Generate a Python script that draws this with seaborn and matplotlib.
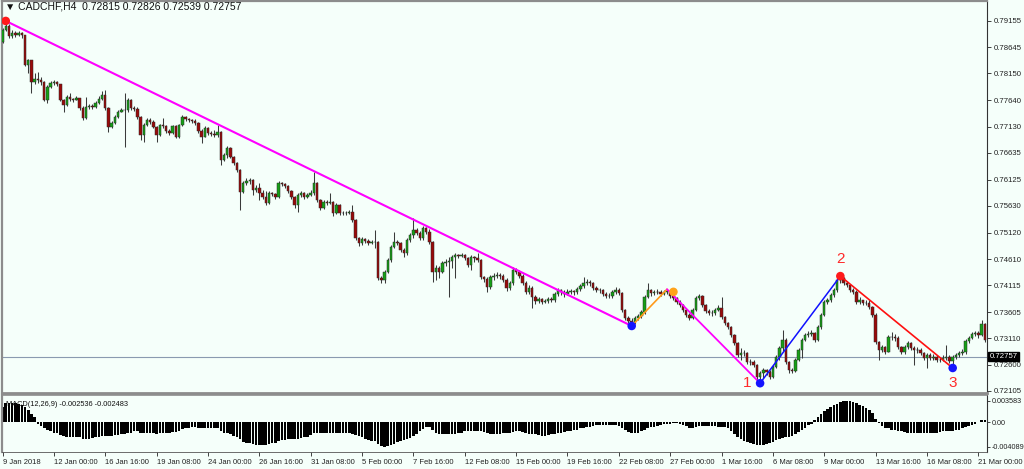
import numpy as np
import pandas as pd
import seaborn as sns
import matplotlib.pyplot as plt
import matplotlib.transforms as mtransforms

sns.set_style("white")
plt.rcParams["font.family"] = ["Liberation Sans", "DejaVu Sans"]

# CADCHF H4 candles, 9 Jan 2018 08:00 .. 21 Mar 2018
first_open = 0.7875
close = [
    0.7898, 0.7905, 0.7886, 0.7892, 0.7888, 0.7892, 0.7888, 0.7831, 0.7841, 0.7799,
    0.7805, 0.7803, 0.7799, 0.7765, 0.7789, 0.7797, 0.7799, 0.7795, 0.7765, 0.7755,
    0.7770, 0.7766, 0.7765, 0.7768, 0.7749, 0.7730, 0.7751, 0.7753, 0.7751, 0.7759,
    0.7766, 0.7774, 0.7749, 0.7713, 0.7721, 0.7732, 0.7742, 0.7745, 0.7745, 0.7765,
    0.7749, 0.7747, 0.7732, 0.7698, 0.7717, 0.7726, 0.7723, 0.7713, 0.7698, 0.7717,
    0.7715, 0.7705, 0.7702, 0.7715, 0.7694, 0.7717, 0.7732, 0.7728, 0.7726, 0.7725,
    0.7721, 0.7705, 0.7694, 0.7711, 0.7702, 0.7700, 0.7698, 0.7704, 0.7650, 0.7660,
    0.7673, 0.7656, 0.7645, 0.7631, 0.7589, 0.7606, 0.7610, 0.7612, 0.7593, 0.7597,
    0.7587, 0.7580, 0.7568, 0.7587, 0.7585, 0.7580, 0.7606, 0.7604, 0.7601, 0.7591,
    0.7580, 0.7564, 0.7584, 0.7587, 0.7580, 0.7584, 0.7587, 0.7606, 0.7574, 0.7559,
    0.7570, 0.7568, 0.7570, 0.7549, 0.7564, 0.7549, 0.7549, 0.7549, 0.7551, 0.7536,
    0.7502, 0.7492, 0.7500, 0.7496, 0.7492, 0.7494, 0.7494, 0.7425, 0.7422, 0.7437,
    0.7460, 0.7485, 0.7494, 0.7492, 0.7479, 0.7473, 0.7498, 0.7507, 0.7517, 0.7511,
    0.7502, 0.7521, 0.7513, 0.7494, 0.7437, 0.7444, 0.7437, 0.7454, 0.7456, 0.7458,
    0.7465, 0.7469, 0.7467, 0.7469, 0.7464, 0.7450, 0.7465, 0.7464, 0.7460, 0.7427,
    0.7423, 0.7408, 0.7427, 0.7429, 0.7431, 0.7429, 0.7422, 0.7406, 0.7416, 0.7441,
    0.7437, 0.7429, 0.7416, 0.7399, 0.7406, 0.7389, 0.7382, 0.7385, 0.7380, 0.7382,
    0.7385, 0.7384, 0.7395, 0.7403, 0.7399, 0.7395, 0.7399, 0.7401, 0.7399, 0.7404,
    0.7410, 0.7416, 0.7418, 0.7416, 0.7406, 0.7403, 0.7403, 0.7395, 0.7391, 0.7391,
    0.7399, 0.7403, 0.7397, 0.7365, 0.7349, 0.7344, 0.7342, 0.7349, 0.7353, 0.7361,
    0.7389, 0.7403, 0.7397, 0.7399, 0.7399, 0.7395, 0.7399, 0.7401, 0.7391, 0.7387,
    0.7380, 0.7374, 0.7365, 0.7355, 0.7349, 0.7365, 0.7387, 0.7391, 0.7374, 0.7363,
    0.7359, 0.7359, 0.7365, 0.7368, 0.7351, 0.7340, 0.7332, 0.7317, 0.7302, 0.7279,
    0.7283, 0.7283, 0.7265, 0.7265, 0.7260, 0.7237, 0.7244, 0.7250, 0.7246, 0.7237,
    0.7256, 0.7275, 0.7292, 0.7307, 0.7265, 0.7250, 0.7248, 0.7269, 0.7288, 0.7307,
    0.7317, 0.7319, 0.7321, 0.7307, 0.7332, 0.7355, 0.7380, 0.7384, 0.7393, 0.7403,
    0.7422, 0.7425, 0.7416, 0.7412, 0.7403, 0.7399, 0.7380, 0.7384, 0.7378, 0.7378,
    0.7370, 0.7355, 0.7304, 0.7288, 0.7294, 0.7285, 0.7313, 0.7313, 0.7311, 0.7294,
    0.7285, 0.7294, 0.7302, 0.7292, 0.7288, 0.7288, 0.7283, 0.7273, 0.7279, 0.7273,
    0.7275, 0.7269, 0.7269, 0.7273, 0.7275, 0.7267, 0.7275, 0.7279, 0.7283, 0.7285,
    0.7305, 0.7311, 0.7319, 0.7321, 0.7317, 0.7338, 0.7307,
]
high = [
    0.7902, 0.7915, 0.7909, 0.7898, 0.7896, 0.7896, 0.7894, 0.7888, 0.7843, 0.7841,
    0.7816, 0.7818, 0.7808, 0.7801, 0.7793, 0.7801, 0.7803, 0.7801, 0.7795, 0.7766,
    0.7774, 0.7778, 0.7768, 0.7772, 0.7768, 0.7753, 0.7770, 0.7757, 0.7757, 0.7763,
    0.7772, 0.7782, 0.7784, 0.7751, 0.7725, 0.7736, 0.7745, 0.7749, 0.7778, 0.7768,
    0.7766, 0.7753, 0.7751, 0.7734, 0.7721, 0.7730, 0.7730, 0.7726, 0.7715, 0.7719,
    0.7730, 0.7717, 0.7709, 0.7717, 0.7717, 0.7719, 0.7736, 0.7734, 0.7730, 0.7728,
    0.7728, 0.7723, 0.7709, 0.7715, 0.7713, 0.7705, 0.7707, 0.7717, 0.7705, 0.7664,
    0.7677, 0.7675, 0.7658, 0.7646, 0.7633, 0.7610, 0.7616, 0.7616, 0.7614, 0.7603,
    0.7606, 0.7593, 0.7591, 0.7591, 0.7589, 0.7587, 0.7610, 0.7608, 0.7606, 0.7603,
    0.7593, 0.7582, 0.7587, 0.7591, 0.7589, 0.7587, 0.7593, 0.7627, 0.7608, 0.7576,
    0.7574, 0.7574, 0.7587, 0.7572, 0.7568, 0.7566, 0.7553, 0.7553, 0.7555, 0.7564,
    0.7538, 0.7504, 0.7504, 0.7502, 0.7500, 0.7498, 0.7517, 0.7496, 0.7429, 0.7441,
    0.7464, 0.7488, 0.7513, 0.7498, 0.7494, 0.7483, 0.7502, 0.7511, 0.7540, 0.7521,
    0.7515, 0.7525, 0.7523, 0.7519, 0.7496, 0.7450, 0.7448, 0.7458, 0.7462, 0.7465,
    0.7469, 0.7473, 0.7471, 0.7473, 0.7471, 0.7465, 0.7469, 0.7467, 0.7473, 0.7462,
    0.7429, 0.7427, 0.7431, 0.7435, 0.7437, 0.7435, 0.7433, 0.7425, 0.7420, 0.7446,
    0.7444, 0.7441, 0.7433, 0.7420, 0.7412, 0.7410, 0.7393, 0.7389, 0.7387, 0.7385,
    0.7389, 0.7389, 0.7399, 0.7406, 0.7404, 0.7403, 0.7404, 0.7404, 0.7403, 0.7408,
    0.7414, 0.7427, 0.7423, 0.7422, 0.7418, 0.7410, 0.7406, 0.7404, 0.7399, 0.7397,
    0.7403, 0.7408, 0.7406, 0.7399, 0.7366, 0.7353, 0.7349, 0.7353, 0.7357, 0.7365,
    0.7393, 0.7416, 0.7404, 0.7403, 0.7404, 0.7403, 0.7403, 0.7404, 0.7403, 0.7399,
    0.7389, 0.7384, 0.7376, 0.7368, 0.7359, 0.7368, 0.7391, 0.7395, 0.7393, 0.7376,
    0.7366, 0.7365, 0.7368, 0.7374, 0.7389, 0.7353, 0.7342, 0.7334, 0.7319, 0.7304,
    0.7292, 0.7288, 0.7285, 0.7271, 0.7269, 0.7262, 0.7248, 0.7254, 0.7252, 0.7250,
    0.7260, 0.7279, 0.7296, 0.7326, 0.7311, 0.7267, 0.7254, 0.7273, 0.7292, 0.7311,
    0.7321, 0.7324, 0.7326, 0.7323, 0.7336, 0.7359, 0.7384, 0.7387, 0.7397, 0.7406,
    0.7425, 0.7429, 0.7427, 0.7420, 0.7414, 0.7406, 0.7403, 0.7389, 0.7384, 0.7384,
    0.7384, 0.7372, 0.7359, 0.7305, 0.7298, 0.7296, 0.7317, 0.7323, 0.7319, 0.7315,
    0.7296, 0.7298, 0.7305, 0.7304, 0.7296, 0.7294, 0.7292, 0.7285, 0.7283, 0.7283,
    0.7281, 0.7279, 0.7275, 0.7279, 0.7298, 0.7279, 0.7279, 0.7283, 0.7286, 0.7290,
    0.7309, 0.7315, 0.7323, 0.7324, 0.7324, 0.7345, 0.7340,
]
low = [
    0.7873, 0.7896, 0.7883, 0.7883, 0.7885, 0.7886, 0.7883, 0.7829, 0.7816, 0.7778,
    0.7795, 0.7797, 0.7793, 0.7763, 0.7759, 0.7787, 0.7793, 0.7791, 0.7763, 0.7742,
    0.7753, 0.7763, 0.7761, 0.7765, 0.7745, 0.7726, 0.7728, 0.7747, 0.7747, 0.7749,
    0.7757, 0.7765, 0.7745, 0.7704, 0.7711, 0.7719, 0.7730, 0.7742, 0.7675, 0.7742,
    0.7745, 0.7744, 0.7728, 0.7688, 0.7685, 0.7715, 0.7719, 0.7711, 0.7685, 0.7696,
    0.7711, 0.7702, 0.7698, 0.7700, 0.7692, 0.7692, 0.7715, 0.7724, 0.7723, 0.7721,
    0.7717, 0.7702, 0.7683, 0.7694, 0.7698, 0.7696, 0.7694, 0.7694, 0.7641, 0.7648,
    0.7654, 0.7654, 0.7641, 0.7627, 0.7555, 0.7587, 0.7603, 0.7604, 0.7584, 0.7589,
    0.7574, 0.7576, 0.7564, 0.7566, 0.7582, 0.7576, 0.7578, 0.7601, 0.7597, 0.7587,
    0.7576, 0.7559, 0.7551, 0.7580, 0.7576, 0.7578, 0.7582, 0.7584, 0.7570, 0.7555,
    0.7557, 0.7564, 0.7566, 0.7543, 0.7547, 0.7545, 0.7545, 0.7545, 0.7547, 0.7532,
    0.7498, 0.7486, 0.7488, 0.7492, 0.7488, 0.7490, 0.7483, 0.7422, 0.7416, 0.7416,
    0.7435, 0.7456, 0.7483, 0.7488, 0.7475, 0.7465, 0.7469, 0.7494, 0.7502, 0.7507,
    0.7498, 0.7498, 0.7509, 0.7490, 0.7418, 0.7422, 0.7425, 0.7435, 0.7448, 0.7389,
    0.7444, 0.7425, 0.7464, 0.7465, 0.7460, 0.7446, 0.7441, 0.7456, 0.7456, 0.7423,
    0.7418, 0.7399, 0.7404, 0.7422, 0.7425, 0.7423, 0.7418, 0.7401, 0.7403, 0.7412,
    0.7433, 0.7425, 0.7412, 0.7395, 0.7395, 0.7368, 0.7376, 0.7378, 0.7376, 0.7378,
    0.7378, 0.7380, 0.7380, 0.7391, 0.7393, 0.7389, 0.7393, 0.7395, 0.7393, 0.7395,
    0.7401, 0.7406, 0.7412, 0.7410, 0.7403, 0.7399, 0.7397, 0.7391, 0.7387, 0.7387,
    0.7387, 0.7395, 0.7393, 0.7361, 0.7345, 0.7340, 0.7334, 0.7338, 0.7345, 0.7349,
    0.7357, 0.7387, 0.7391, 0.7393, 0.7395, 0.7391, 0.7393, 0.7395, 0.7387, 0.7384,
    0.7376, 0.7370, 0.7361, 0.7351, 0.7345, 0.7347, 0.7363, 0.7384, 0.7370, 0.7359,
    0.7355, 0.7353, 0.7355, 0.7363, 0.7347, 0.7336, 0.7328, 0.7313, 0.7298, 0.7275,
    0.7269, 0.7277, 0.7262, 0.7260, 0.7256, 0.7231, 0.7225, 0.7235, 0.7241, 0.7233,
    0.7235, 0.7254, 0.7269, 0.7286, 0.7262, 0.7244, 0.7244, 0.7246, 0.7267, 0.7273,
    0.7305, 0.7313, 0.7315, 0.7304, 0.7305, 0.7328, 0.7353, 0.7376, 0.7380, 0.7389,
    0.7399, 0.7416, 0.7412, 0.7408, 0.7399, 0.7395, 0.7376, 0.7376, 0.7374, 0.7374,
    0.7366, 0.7351, 0.7300, 0.7269, 0.7285, 0.7281, 0.7285, 0.7307, 0.7305, 0.7290,
    0.7281, 0.7281, 0.7290, 0.7288, 0.7260, 0.7283, 0.7279, 0.7269, 0.7254, 0.7269,
    0.7269, 0.7265, 0.7265, 0.7267, 0.7269, 0.7264, 0.7254, 0.7271, 0.7275, 0.7279,
    0.7281, 0.7302, 0.7309, 0.7315, 0.7311, 0.7315, 0.7304,
]
# MACD(12,26,9) main line, one value per bar
macd = [
    0.0026, 0.0032, 0.0032, 0.0032, 0.0032, 0.0030, 0.0029, 0.0025, 0.0020, 0.0014,
    0.0008, -0.0002, -0.0006, -0.0009, -0.0012, -0.0015, -0.0017, -0.0018, -0.0021, -0.0023,
    -0.0024, -0.0024, -0.0024, -0.0024, -0.0024, -0.0027, -0.0027, -0.0027, -0.0026, -0.0024,
    -0.0024, -0.0022, -0.0022, -0.0023, -0.0022, -0.0021, -0.0021, -0.0020, -0.0020, -0.0018,
    -0.0017, -0.0015, -0.0015, -0.0017, -0.0018, -0.0018, -0.0017, -0.0018, -0.0019, -0.0018,
    -0.0017, -0.0017, -0.0017, -0.0016, -0.0016, -0.0014, -0.0011, -0.0010, -0.0009, -0.0008,
    -0.0008, -0.0009, -0.0010, -0.0010, -0.0010, -0.0010, -0.0010, -0.0010, -0.0014, -0.0017,
    -0.0018, -0.0020, -0.0022, -0.0024, -0.0028, -0.0032, -0.0034, -0.0035, -0.0036, -0.0037,
    -0.0037, -0.0037, -0.0037, -0.0036, -0.0035, -0.0034, -0.0031, -0.0030, -0.0029, -0.0028,
    -0.0028, -0.0028, -0.0027, -0.0026, -0.0024, -0.0024, -0.0021, -0.0018, -0.0017, -0.0017,
    -0.0017, -0.0017, -0.0017, -0.0018, -0.0018, -0.0018, -0.0017, -0.0017, -0.0018, -0.0020,
    -0.0021, -0.0022, -0.0024, -0.0027, -0.0030, -0.0031, -0.0031, -0.0036, -0.0039, -0.004089,
    -0.0040, -0.0038, -0.0036, -0.0033, -0.0031, -0.0029, -0.0027, -0.0026, -0.0023, -0.0019,
    -0.0015, -0.0011, -0.0008, -0.0008, -0.0013, -0.0018, -0.0019, -0.0020, -0.0020, -0.0020,
    -0.0019, -0.0019, -0.0018, -0.0017, -0.0015, -0.0015, -0.0015, -0.0015, -0.0014, -0.0015,
    -0.0016, -0.0018, -0.0019, -0.0019, -0.0019, -0.0019, -0.0018, -0.0018, -0.0018, -0.0016,
    -0.0015, -0.0015, -0.0016, -0.0018, -0.0019, -0.0019, -0.0020, -0.0021, -0.0022, -0.0022,
    -0.0021, -0.0020, -0.0019, -0.0018, -0.0017, -0.0016, -0.0015, -0.0014, -0.0013, -0.0012,
    -0.0010, -0.0009, -0.0008, -0.0007, -0.0006, -0.0005, -0.0005, -0.0005, -0.0005, -0.0005,
    -0.0005, -0.0005, -0.0006, -0.0009, -0.0013, -0.0016, -0.0018, -0.0018, -0.0017, -0.0014,
    -0.0012, -0.0010, -0.0008, -0.0007, -0.0006, -0.0004, -0.0003, -0.0003, -0.0002, -0.0001,
    -0.0001, -0.0002, -0.0004, -0.0006, -0.0009, -0.0009, -0.0007, -0.0006, -0.0006, -0.0006,
    -0.0006, -0.0006, -0.0006, -0.0007, -0.0007, -0.0008, -0.0010, -0.0014, -0.0019, -0.0024,
    -0.0028, -0.0031, -0.0033, -0.0035, -0.0036, -0.0037, -0.0037, -0.0037, -0.0036, -0.0035,
    -0.0032, -0.0030, -0.0028, -0.0026, -0.0025, -0.0024, -0.0022, -0.0019, -0.0016, -0.0013,
    -0.0009, -0.0005, -0.0002, 0.0003, 0.0008, 0.0014, 0.0019, 0.0022, 0.0025, 0.0028,
    0.0031, 0.0034, 0.003583, 0.00358, 0.0035, 0.0034, 0.0032, 0.0029, 0.0027, 0.0024,
    0.0020, 0.0015, 0.0006, -0.0001, -0.0006, -0.0009, -0.0010, -0.0012, -0.0013, -0.0014,
    -0.0015, -0.0016, -0.0017, -0.0017, -0.0017, -0.0017, -0.0017, -0.0017, -0.0017, -0.0017,
    -0.0017, -0.0017, -0.0016, -0.0015, -0.0015, -0.0014, -0.0014, -0.0013, -0.0012, -0.0010,
    -0.0008, -0.0006, -0.0004, -0.0002, 0.0001, 0.0003, 0.0003,
]

date_labels = ["9 Jan 2018", "12 Jan 00:00", "16 Jan 16:00", "19 Jan 08:00", "24 Jan 00:00",
               "26 Jan 16:00", "31 Jan 08:00", "5 Feb 00:00", "7 Feb 16:00", "12 Feb 08:00",
               "15 Feb 00:00", "19 Feb 16:00", "22 Feb 08:00", "27 Feb 00:00", "1 Mar 16:00",
               "6 Mar 08:00", "9 Mar 00:00", "13 Mar 16:00", "16 Mar 08:00", "21 Mar 00:00"]
price_ticks = [0.79155, 0.78645, 0.78150, 0.77640, 0.77130, 0.76635, 0.76125, 0.75630,
               0.75120, 0.74610, 0.74115, 0.73605, 0.73110, 0.72600, 0.72105]
macd_ticks = [0.003583, 0.0, -0.004089]
macd_tick_labels = ["0.003583", "0.00", "-0.004089"]
last_price = 0.72757
title = "\u25bc CADCHF,H4  0.72815 0.72826 0.72539 0.72757"
macd_title = "MACD(12,26,9) -0.002536 -0.002483"

# hand drawn pattern lines (bar index, price)
magenta_a = ([1, 196], [0.7915, 0.7334])
orange_leg = ([196, 207], [0.7334, 0.7404])
magenta_b = ([207, 236], [0.7404, 0.7225])
blue_leg = ([236, 261], [0.7225, 0.7429])
red_leg = ([261, 296], [0.7429, 0.7254])
dots_bar = [1, 196, 209, 236, 261, 296]
dots_price = [0.7915, 0.7334, 0.7399, 0.7225, 0.7429, 0.7254]
dots_color = ["#ff1a1a", "#1414ff", "#ffa31a", "#1414ff", "#ff1a1a", "#1414ff"]
wave_labels = ["1", "2", "3"]
wave_bars = [236, 261, 296]
wave_prices = [0.7225, 0.7429, 0.7254]

bg = "#f5fffa"
n = len(close)
idx = np.arange(n)
opens = np.array([first_open] + close[:-1])
close_a = np.array(close)
up = close_a >= opens

fig = plt.figure(figsize=(10.24, 4.69), dpi=100, facecolor=bg)
ax = fig.add_axes([0.0017, 0.162, 0.9622, 0.836], facecolor=bg)
ax2 = fig.add_axes([0.0017, 0.036, 0.9622, 0.1215], facecolor=bg, sharex=ax)

# candles
ax.vlines(idx, low, high, color="#3a3a3a", lw=0.75, zorder=2)
body_lo = np.minimum(opens, close_a)
body_h = np.maximum(np.abs(close_a - opens), 0.00004)
ax.bar(idx, body_h, bottom=body_lo, width=0.75,
       color=np.where(up, "#16a016", "#9a0a0a"), edgecolor="#2a2a2a", linewidth=0.35, zorder=3)

ax.axhline(last_price, color="#8a9ab0", lw=0.8, zorder=1)

for seg, col, lw in [(magenta_a, "#ff00ff", 1.5), (orange_leg, "#ff9a1a", 1.2),
                     (magenta_b, "#ff00ff", 1.3), (blue_leg, "#1010ff", 1.1),
                     (red_leg, "#ff1010", 1.2)]:
    sns.lineplot(x=seg[0], y=seg[1], color=col, lw=lw, sort=False, ax=ax, zorder=4)

sns.scatterplot(x=dots_bar, y=dots_price, hue=dots_bar, palette=dots_color, s=38,
                edgecolor="none", legend=False, ax=ax, zorder=5)

offsets = [(-9, 0), (0, 12), (0, -11)]
for lab, b, p, off in zip(wave_labels, wave_bars, wave_prices, offsets):
    ax.annotate(lab, (b, p), xytext=off, textcoords="offset points", color="#ff2a2a",
                fontsize=11, ha="center", va="center", zorder=6)

ax.text(0.003, 0.986, title, transform=ax.transAxes, fontsize=7.5, va="center", ha="left",
        color="#111111")

# right price scale
ax.set_xlim(-0.25, 306.7)
ax.set_ylim(0.72063, 0.79531)
ax.yaxis.tick_right()
ax.set_yticks(price_ticks)
ax.set_yticklabels([f"{t:.5f}" for t in price_ticks])
ax.tick_params(axis="y", direction="out", length=3, width=0.6, pad=1.5, labelsize=5.6,
               colors="#222222", right=True, left=False)
ax.tick_params(axis="x", bottom=False, labelbottom=False)
ax.set_xlabel("")
ax.set_ylabel("")

trans = mtransforms.blended_transform_factory(ax.transAxes, ax.transData)
ax.text(1.0025, last_price, f"{last_price:.5f}", transform=trans, fontsize=5.6, color="white",
        va="center", ha="left",
        bbox=dict(boxstyle="square,pad=0.18", fc="black", ec="black"))

# MACD histogram
sns.barplot(x=idx, y=macd, native_scale=True, color="#000000", saturation=1,
            width=0.8, errorbar=None, linewidth=0, ax=ax2, zorder=2)
ax2.set_xlim(-0.25, 306.7)
ax2.set_ylim(-0.00495, 0.00451)
ax2.yaxis.tick_right()
ax2.set_yticks(macd_ticks)
ax2.set_yticklabels(macd_tick_labels)
ax2.tick_params(axis="y", direction="out", length=2.5, width=0.6, pad=1.0, labelsize=5.2,
                colors="#222222", right=True, left=False)
ax2.set_xticks(list(range(0, 16 * len(date_labels), 16)))
ax2.set_xticklabels(date_labels, ha="left")
ax2.tick_params(axis="x", direction="out", length=3, width=0.6, pad=2, labelsize=5.5,
                colors="#222222", bottom=True)
ax2.set_xlabel("")
ax2.set_ylabel("")
ax2.text(0.004, 0.84, macd_title, transform=ax2.transAxes, fontsize=5.3, va="center",
         ha="left", color="#111111", zorder=6)

for a in (ax, ax2):
    a.grid(False)
    a.spines["left"].set_color("#8c8c8c")
    a.spines["left"].set_linewidth(1.6)
    a.spines["right"].set_color("#333333")
    a.spines["right"].set_linewidth(0.8)
ax.spines["top"].set_color("#8c8c8c")
ax.spines["top"].set_linewidth(1.6)
ax.spines["bottom"].set_color("#8c8c8c")
ax.spines["bottom"].set_linewidth(2.0)
ax2.spines["top"].set_color("#8c8c8c")
ax2.spines["top"].set_linewidth(1.2)
ax2.spines["bottom"].set_color("#555555")
ax2.spines["bottom"].set_linewidth(0.6)

fig.savefig("out.png", dpi=100, facecolor=bg)
